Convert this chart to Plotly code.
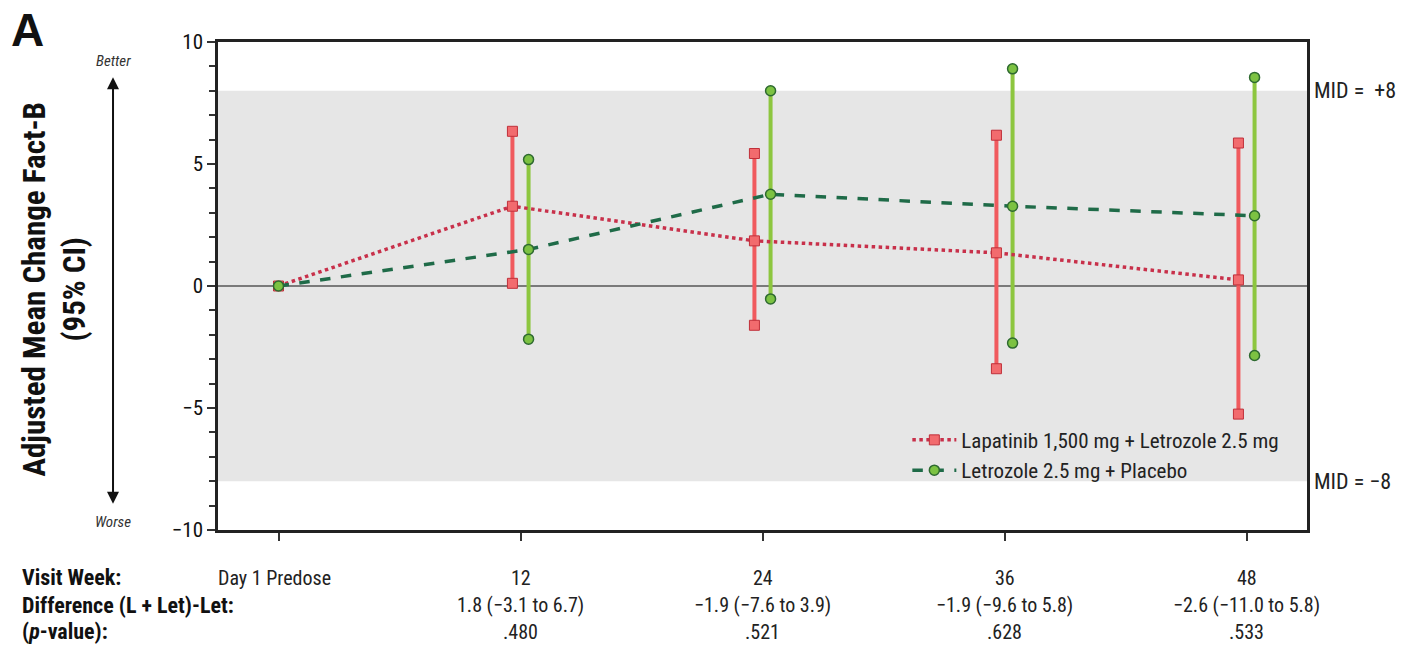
import plotly.graph_objects as go

# ---- data ----
visit_weeks = [0, 12, 24, 36, 48]
visit_labels = ["Day 1 Predose", "12", "24", "36", "48"]

lap_name = "Lapatinib 1,500 mg + Letrozole 2.5 mg"
lap_mean = [0.0, 3.27, 1.85, 1.36, 0.25]
lap_lo = [None, 0.11, -1.61, -3.39, -5.25]
lap_hi = [None, 6.34, 5.43, 6.18, 5.86]

let_name = "Letrozole 2.5 mg + Placebo"
let_mean = [0.0, 1.50, 3.76, 3.27, 2.88]
let_lo = [None, -2.18, -0.53, -2.34, -2.85]
let_hi = [None, 5.18, 8.00, 8.90, 8.55]

diff_labels = ["", "1.8 (\u22123.1 to 6.7)", "\u22121.9 (\u22127.6 to 3.9)",
               "\u22121.9 (\u22129.6 to 5.8)", "\u22122.6 (\u221211.0 to 5.8)"]
p_labels = ["", ".480", ".521", ".628", ".533"]
mid_upper = 8
mid_lower = -8

# ---- styling ----
FONT = "Liberation Sans Narrow, Arial Narrow, Roboto Condensed, Roboto, sans-serif"
OFF = 0.4
RED_BAR = "#f05a5e"
RED_LINE = "#c8304a"
RED_FILL = "#f26b6e"
RED_EDGE = "#c0303a"
GRN_BAR = "#8dc63f"
GRN_LINE = "#1f6b48"
GRN_FILL = "#7cc242"
GRN_EDGE = "#2e6a30"


def shifted(xs, d):
    return [x + d if x != 0 else x for x in xs]


def ci_xy(xs, lo, hi):
    X, Y = [], []
    for x, a, b in zip(xs, lo, hi):
        if a is None:
            continue
        X += [x, x, None]
        Y += [a, b, None]
    return X, Y


fig = go.Figure()

lx = shifted(visit_weeks, -OFF)
gx = shifted(visit_weeks, OFF)

X, Y = ci_xy(lx, lap_lo, lap_hi)
fig.add_trace(go.Scatter(x=X, y=Y, mode="lines+markers", showlegend=False,
                         line=dict(color=RED_BAR, width=4),
                         marker=dict(symbol="square", size=10, color=RED_FILL,
                                     line=dict(color=RED_EDGE, width=1)),
                         hoverinfo="skip"))
X, Y = ci_xy(gx, let_lo, let_hi)
fig.add_trace(go.Scatter(x=X, y=Y, mode="lines+markers", showlegend=False,
                         line=dict(color=GRN_BAR, width=4),
                         marker=dict(symbol="circle", size=10, color=GRN_FILL,
                                     line=dict(color=GRN_EDGE, width=1.5)),
                         hoverinfo="skip"))

fig.add_trace(go.Scatter(x=lx, y=lap_mean, mode="lines+markers", name=lap_name,
                         line=dict(color=RED_LINE, width=3.5, dash="dot"),
                         marker=dict(symbol="square", size=10, color=RED_FILL,
                                     line=dict(color=RED_EDGE, width=1))))
fig.add_trace(go.Scatter(x=gx, y=let_mean, mode="lines+markers", name=let_name,
                         line=dict(color=GRN_LINE, width=3.5, dash="dash"),
                         marker=dict(symbol="circle", size=10, color=GRN_FILL,
                                     line=dict(color=GRN_EDGE, width=1.5))))

shapes = [
    dict(type="rect", xref="paper", yref="y", x0=0, x1=1, y0=mid_lower, y1=mid_upper,
         fillcolor="#e6e6e6", line=dict(width=0), layer="below"),
    dict(type="line", xref="paper", yref="y", x0=0, x1=1, y0=0, y1=0,
         line=dict(color="#7a7a7a", width=2), layer="below"),
]

ann = []
# panel letter
ann.append(dict(text="<b>A</b>", xref="paper", yref="paper", x=-0.175, y=1.025,
                showarrow=False, font=dict(size=46, family="Liberation Sans, Arial, sans-serif", color="#111"),
                xanchor="center", yanchor="middle"))
# y title
ann.append(dict(text="<b>Adjusted Mean Change Fact-B<br>(95% CI)</b>", xref="paper", yref="paper",
                x=-0.150, y=0.494, textangle=-90, showarrow=False,
                font=dict(size=31, family=FONT, color="#111"), xanchor="center", yanchor="middle"))
# better / worse arrow
ann.append(dict(text="", xref="paper", yref="paper", x=-0.0964, y=0.928,
                ax=0, ay=428, axref="pixel", ayref="pixel", showarrow=True,
                arrowhead=2, arrowside="end+start", arrowsize=1.2, arrowwidth=2, arrowcolor="#111"))
ann.append(dict(text="<i>Better</i>", xref="paper", yref="paper", x=-0.0964, y=0.962,
                showarrow=False, font=dict(size=15, family=FONT, color="#333"),
                xanchor="center", yanchor="middle"))
ann.append(dict(text="<i>Worse</i>", xref="paper", yref="paper", x=-0.0964, y=0.016,
                showarrow=False, font=dict(size=15, family=FONT, color="#333"),
                xanchor="center", yanchor="middle"))
# MID labels
ann.append(dict(text="MID =  +8", xref="paper", yref="y", x=1.005, y=mid_upper,
                showarrow=False, font=dict(size=22, family=FONT, color="#222"),
                xanchor="left", yanchor="middle"))
ann.append(dict(text="MID = \u22128", xref="paper", yref="y", x=1.005, y=mid_lower,
                showarrow=False, font=dict(size=22, family=FONT, color="#222"),
                xanchor="left", yanchor="middle"))

# bottom table
row_y = [-0.098, -0.154, -0.209]
row_titles = ["<b>Visit Week:</b>", "<b>Difference (L + Let)-Let:</b>", "<b>(<i>p</i>-value):</b>"]
for ry, t in zip(row_y, row_titles):
    ann.append(dict(text=t, xref="paper", yref="paper", x=-0.182, y=ry, showarrow=False,
                    font=dict(size=22, family=FONT, color="#111"), xanchor="left", yanchor="middle"))
for xw, vl, dl, pl in zip(visit_weeks, visit_labels, diff_labels, p_labels):
    for ry, t in zip(row_y, [vl, dl, pl]):
        if t:
            ann.append(dict(text=t, xref="x", yref="paper", x=xw - (0.2 if xw == 0 else 0), y=ry,
                            showarrow=False, font=dict(size=20, family=FONT, color="#222"),
                            xanchor="center", yanchor="middle"))

fig.update_layout(
    width=1423, height=646,
    margin=dict(l=218, r=116, t=42, b=116),
    paper_bgcolor="white", plot_bgcolor="white",
    font=dict(family=FONT, color="#222"),
    shapes=shapes, annotations=ann,
    legend=dict(x=0.633, y=0.226, xanchor="left", yanchor="top",
                bgcolor="rgba(0,0,0,0)", font=dict(size=21, family=FONT, color="#222"),
                itemwidth=44, tracegroupgap=0),
    xaxis=dict(range=[-3, 51], tickvals=visit_weeks, showticklabels=False,
               ticks="outside", ticklen=8, tickwidth=2, tickcolor="#333",
               showgrid=False, zeroline=False, showline=True, mirror=True,
               linecolor="#222", linewidth=2.5),
    yaxis=dict(range=[-10, 10], tickvals=[-10, -5, 0, 5, 10],
               ticktext=["\u221210", "\u22125", "0", "5", "10"],
               ticks="outside", ticklen=8, tickwidth=2, tickcolor="#333",
               minor=dict(dtick=1, ticks="outside", ticklen=6, tickwidth=2, tickcolor="#333"),
               tickfont=dict(size=21, family=FONT, color="#111"),
               showgrid=False, zeroline=False, showline=True, mirror=True,
               linecolor="#222", linewidth=2.5),
)

fig.write_html("out.html", config={"displayModeBar": False},
               post_script="document.body.style.margin='0px';document.body.style.overflow='hidden';")
